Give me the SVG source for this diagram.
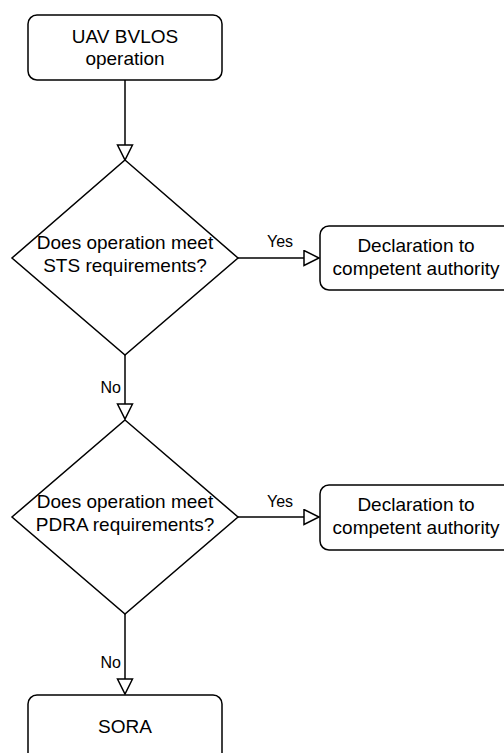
<svg xmlns="http://www.w3.org/2000/svg" width="504" height="753" viewBox="0 0 504 753">
  <style>
    .shape { fill: #ffffff; stroke: #000000; stroke-width: 1.5; }
    .edge { fill: none; stroke: #000000; stroke-width: 1.5; marker-end: url(#open-arrow); }
    .label { font-family: "Liberation Sans", Arial, Helvetica, sans-serif; font-size: 19px; fill: #000000; text-anchor: middle; }
    .edge-label { font-family: "Liberation Sans", Arial, Helvetica, sans-serif; font-size: 16px; fill: #000000; }
  </style>
  <defs>
    <marker id="open-arrow" markerUnits="userSpaceOnUse" markerWidth="18" markerHeight="18" viewBox="-1 -1 18 18" refX="15" refY="7.5" orient="auto">
      <path d="M0,0 L15,7.5 L0,15 Z" fill="#ffffff" stroke="#000000" stroke-width="1.5"/>
    </marker>
  </defs>

  <rect width="504" height="753" fill="#ffffff"/>

  <!-- connectors -->
  <g id="edges">
    <path class="edge" d="M125,80 V160"/>
    <path class="edge" d="M238,258 H319"/>
    <path class="edge" d="M125,355 V419"/>
    <path class="edge" d="M238,517 H319"/>
    <path class="edge" d="M125,614 V694"/>
    <text class="edge-label" x="280" y="247" text-anchor="middle">Yes</text>
    <text class="edge-label" x="121" y="393" text-anchor="end">No</text>
    <text class="edge-label" x="280" y="507" text-anchor="middle">Yes</text>
    <text class="edge-label" x="121" y="668" text-anchor="end">No</text>
  </g>

  <g id="start">
    <rect class="shape" x="28" y="15" width="194" height="65" rx="9"/>
    <text class="label" x="125" y="43">UAV BVLOS</text>
    <text class="label" x="125" y="65">operation</text>
  </g>

  <g id="sts-check">
    <polygon class="shape" points="125,160 238,258 125,355 12,258"/>
    <text class="label" x="125" y="249">Does operation meet</text>
    <text class="label" x="125" y="272">STS requirements?</text>
  </g>

  <g id="sts-declaration">
    <rect class="shape" x="320" y="226" width="192" height="64" rx="9"/>
    <text class="label" x="416" y="252">Declaration to</text>
    <text class="label" x="416" y="275">competent authority</text>
  </g>

  <g id="pdra-check">
    <polygon class="shape" points="125,420 238,517 125,614 12,517"/>
    <text class="label" x="125" y="508">Does operation meet</text>
    <text class="label" x="125" y="531">PDRA requirements?</text>
  </g>

  <g id="pdra-declaration">
    <rect class="shape" x="320" y="485" width="192" height="65" rx="9"/>
    <text class="label" x="416" y="511">Declaration to</text>
    <text class="label" x="416" y="534">competent authority</text>
  </g>

  <g id="sora">
    <rect class="shape" x="28" y="695" width="194" height="70" rx="9"/>
    <text class="label" x="125" y="733">SORA</text>
  </g>
</svg>
